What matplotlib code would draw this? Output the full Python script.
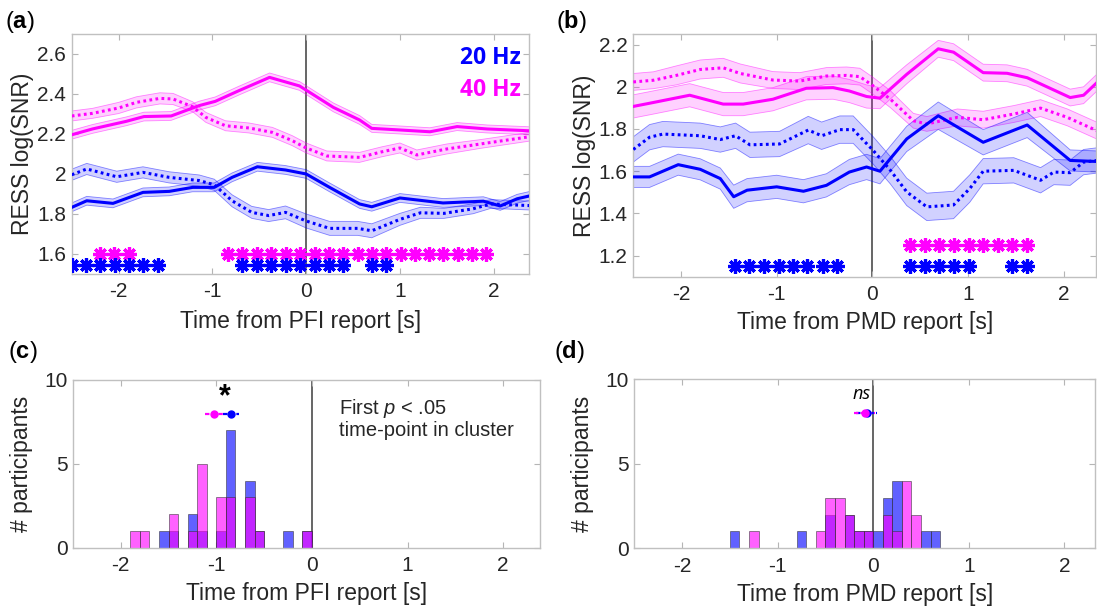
import numpy as np
import matplotlib
matplotlib.use('Agg')
import matplotlib.pyplot as plt
from matplotlib.ticker import FormatStrFormatter

plt.rcParams['font.family'] = 'Liberation Sans'
plt.rcParams['axes.unicode_minus'] = False
plt.rcParams['mathtext.fontset'] = 'custom'
plt.rcParams['mathtext.rm'] = 'Liberation Sans'
plt.rcParams['mathtext.it'] = 'Liberation Sans:italic'
plt.rcParams['mathtext.bf'] = 'Liberation Sans:bold'

# Colours: 20 Hz = blue, 40 Hz = magenta
c20 = (0.0, 0.0, 1.0)
c40 = (1.0, 0.0, 1.0)

# ---- (a) RESS log(SNR) around PFI report ----
# 40 Hz, solid (disappearance) and dotted (reappearance)
a40_t   = [-2.5, -2.28, -1.92, -1.73, -1.44, -1.14, -0.97, -0.72, -0.39, -0.07, 0.29, 0.57, 0.70, 1.0, 1.32, 1.61, 1.93, 2.38]
a40_v   = [2.196, 2.225, 2.263, 2.287, 2.29, 2.342, 2.363, 2.416, 2.483, 2.44, 2.333, 2.27, 2.228, 2.22, 2.211, 2.237, 2.225, 2.216]
a40_e   = [0.022, 0.022, 0.022, 0.022, 0.022, 0.022, 0.022, 0.022, 0.022, 0.022, 0.022, 0.022, 0.02, 0.02, 0.02, 0.02, 0.02, 0.02]
a40d_t  = [-2.5, -2.28, -2.0, -1.81, -1.56, -1.42, -1.21, -1.07, -0.86, -0.61, -0.36, -0.15, 0.0, 0.22, 0.57, 0.80, 1.0, 1.18, 1.5, 1.86, 2.38]
a40d_v  = [2.29, 2.303, 2.33, 2.358, 2.378, 2.375, 2.336, 2.283, 2.241, 2.23, 2.208, 2.167, 2.13, 2.09, 2.083, 2.11, 2.13, 2.095, 2.125, 2.15, 2.186]
a40d_e  = [0.025, 0.025, 0.028, 0.028, 0.028, 0.028, 0.025, 0.025, 0.025, 0.025, 0.025, 0.025, 0.025, 0.025, 0.025, 0.025, 0.025, 0.025, 0.025, 0.022, 0.022]
# 20 Hz
a20_t   = [-2.5, -2.34, -2.06, -1.74, -1.46, -1.21, -0.98, -0.79, -0.52, -0.22, 0.0, 0.25, 0.57, 0.70, 1.0, 1.46, 1.89, 2.07, 2.25, 2.38]
a20_v   = [1.833, 1.866, 1.853, 1.908, 1.913, 1.933, 1.933, 1.983, 2.036, 2.02, 2.0, 1.933, 1.85, 1.836, 1.88, 1.855, 1.864, 1.84, 1.876, 1.89]
a20_e   = [0.022, 0.022, 0.022, 0.022, 0.022, 0.022, 0.022, 0.022, 0.022, 0.022, 0.022, 0.022, 0.022, 0.022, 0.022, 0.022, 0.022, 0.022, 0.022, 0.022]
a20d_t  = [-2.5, -2.34, -2.02, -1.74, -1.46, -1.14, -0.98, -0.79, -0.58, -0.40, -0.22, 0.0, 0.25, 0.55, 0.70, 1.0, 1.22, 1.47, 1.78, 1.97, 2.38]
a20d_v  = [1.996, 2.025, 1.986, 2.008, 1.983, 1.967, 1.946, 1.866, 1.808, 1.792, 1.808, 1.765, 1.728, 1.728, 1.716, 1.773, 1.806, 1.803, 1.826, 1.85, 1.842]
a20d_e  = [0.028, 0.028, 0.028, 0.028, 0.028, 0.028, 0.028, 0.03, 0.03, 0.03, 0.032, 0.035, 0.035, 0.035, 0.035, 0.03, 0.028, 0.025, 0.025, 0.022, 0.022]
# significant time points (cluster test)
a40_sig = [-2.20, -2.05, -1.89, -0.83, -0.68, -0.52, -0.37, -0.22, -0.07, 0.09, 0.24, 0.39, 0.55,
           0.70, 0.85, 1.01, 1.16, 1.31, 1.46, 1.62, 1.77, 1.92]
a20_sig = [-2.50, -2.35, -2.20, -2.04, -1.89, -1.74, -1.58, -0.68, -0.52, -0.37, -0.22, -0.07, 0.09,
           0.24, 0.39, 0.70, 0.85]

# ---- (b) RESS log(SNR) around PMD report ----
b40_t   = [-2.5, -2.33, -1.91, -1.56, -1.35, -1.04, -0.69, -0.41, -0.24, -0.06, 0.08, 0.36, 0.69, 0.85, 1.16, 1.41, 1.62, 2.07, 2.21, 2.35]
b40_v   = [1.907, 1.922, 1.96, 1.918, 1.918, 1.941, 1.993, 1.996, 1.98, 1.954, 1.946, 2.059, 2.18, 2.164, 2.067, 2.064, 2.043, 1.949, 1.96, 2.02]
b40_e   = [0.055, 0.055, 0.055, 0.055, 0.055, 0.055, 0.055, 0.055, 0.055, 0.055, 0.05, 0.045, 0.04, 0.04, 0.04, 0.04, 0.04, 0.04, 0.04, 0.04]
b40d_t  = [-2.5, -2.29, -2.05, -1.80, -1.56, -1.38, -1.04, -0.76, -0.48, -0.27, -0.13, 0.01, 0.19, 0.43, 0.57, 0.89, 1.16, 1.48, 1.76, 2.04, 2.35]
b40d_v  = [2.023, 2.031, 2.054, 2.082, 2.09, 2.063, 2.032, 2.027, 2.051, 2.054, 2.048, 2.004, 1.941, 1.839, 1.824, 1.855, 1.844, 1.871, 1.899, 1.855, 1.792]
b40d_e  = [0.04, 0.04, 0.045, 0.045, 0.045, 0.045, 0.04, 0.04, 0.04, 0.04, 0.04, 0.04, 0.04, 0.035, 0.035, 0.04, 0.04, 0.04, 0.04, 0.04, 0.04]
b20_t   = [-2.5, -2.33, -2.03, -1.80, -1.59, -1.45, -1.31, -1.0, -0.72, -0.48, -0.24, -0.06, 0.08, 0.36, 0.69, 1.16, 1.62, 2.07, 2.35]
b20_v   = [1.573, 1.573, 1.631, 1.609, 1.565, 1.479, 1.51, 1.526, 1.505, 1.533, 1.596, 1.62, 1.6, 1.753, 1.863, 1.737, 1.819, 1.651, 1.646]
b20_e   = [0.05, 0.05, 0.05, 0.05, 0.05, 0.055, 0.055, 0.055, 0.055, 0.055, 0.06, 0.06, 0.06, 0.06, 0.065, 0.06, 0.06, 0.05, 0.05]
b20d_t  = [-2.5, -2.33, -2.19, -1.80, -1.59, -1.43, -1.28, -0.97, -0.67, -0.53, -0.34, -0.20, 0.01, 0.19, 0.36, 0.57, 0.85, 1.02, 1.16, 1.48, 1.76, 1.90, 2.07, 2.21, 2.35]
b20d_v  = [1.703, 1.761, 1.776, 1.768, 1.75, 1.768, 1.725, 1.729, 1.795, 1.768, 1.797, 1.797, 1.698, 1.604, 1.502, 1.431, 1.44, 1.518, 1.6, 1.604, 1.557, 1.596, 1.593, 1.643, 1.651]
b20d_e  = [0.06, 0.06, 0.06, 0.06, 0.06, 0.06, 0.06, 0.06, 0.065, 0.065, 0.065, 0.065, 0.065, 0.065, 0.065, 0.065, 0.065, 0.065, 0.06, 0.06, 0.06, 0.06, 0.06, 0.06, 0.06]
b40_sig = [0.39, 0.55, 0.70, 0.85, 1.01, 1.16, 1.31, 1.46, 1.62]
b20_sig = [-1.44, -1.29, -1.13, -0.98, -0.83, -0.68, -0.52, -0.37, 0.39, 0.55, 0.70, 0.85, 1.01, 1.46, 1.62]

# ---- (c) first significant time point, PFI ----
c_bins = [-1.9, -1.8, -1.6, -1.5, -1.3, -1.2, -1.0, -0.9, -0.7, -0.6, -0.3, -0.1]
c40_n  = [1, 1, 0, 2, 1, 5, 3, 3, 3, 1, 0, 1]
c20_n  = [0, 0, 1, 1, 2, 1, 1, 7, 4, 1, 1, 1]
c40_mean, c40_sem = -1.026, 0.095
c20_mean, c20_sem = -0.85, 0.085

# ---- (d) first significant time point, PMD ----
d_bins = [-1.5, -1.3, -0.8, -0.6, -0.5, -0.4, -0.3, -0.2, -0.1, 0.0, 0.1, 0.2, 0.3, 0.4, 0.5, 0.6]
d40_n  = [0, 1, 0, 1, 3, 3, 2, 1, 1, 0, 2, 1, 4, 2, 0, 0]
d20_n  = [1, 0, 1, 0, 2, 0, 2, 1, 1, 1, 3, 4, 0, 0, 1, 1]
d40_mean, d40_sem = -0.09, 0.11
d20_mean, d20_sem = -0.07, 0.11

binw = 0.1
tick_col = '#262626'
lab_fs = 16.5


def style(ax, xlim, ylim, yticks):
    ax.set_xlim(xlim)
    ax.set_ylim(ylim)
    ax.set_xticks([-2, -1, 0, 1, 2])
    ax.set_yticks(yticks)
    ax.yaxis.set_major_formatter(FormatStrFormatter('%g'))
    ax.tick_params(direction='in', top=True, right=True, length=4, width=0.8,
                   color='#b5b5b5', labelcolor=tick_col, labelsize=15)
    ax.tick_params(axis='x', pad=6)
    ax.tick_params(axis='y', pad=4)
    for s in ax.spines.values():
        s.set_color('#c0c0c0')
        s.set_linewidth(1.0)
    ax.axvline(0, color='#3c3c3c', lw=1.1, zorder=1)


def band(ax, t, v, e, col, ls):
    t = np.array(t); v = np.array(v); e = np.array(e)
    ax.fill_between(t, v - e, v + e, facecolor=col, alpha=0.18, edgecolor='none', zorder=2)
    ax.plot(t, v - e, color=col, lw=0.6, alpha=0.45, zorder=2)
    ax.plot(t, v + e, color=col, lw=0.6, alpha=0.45, zorder=2)
    if ls == 'dot':
        ax.plot(t, v, color=col, lw=2.2, ls=(0, (0.9, 1.1)), zorder=3)
    else:
        ax.plot(t, v, color=col, lw=2.2, zorder=3)


def stars(ax, t, y, col):
    ax.plot(t, np.full(len(t), y), ls='none', marker=(8, 2, 0), ms=10.5, mew=2.3,
            color=col, zorder=4)


def hist(ax, bins, n20, n40):
    ax.bar(bins, n20, width=binw, align='edge', color=c20, alpha=0.62,
           edgecolor='#303030', linewidth=0.6, zorder=2)
    ax.bar(bins, n40, width=binw, align='edge', color=c40, alpha=0.62,
           edgecolor='#303030', linewidth=0.6, zorder=2)


def means(ax, m20, s20, m40, s40, y):
    # 20 Hz first so that the 40 Hz marker sits on top
    for m, s, col in [(m20, s20, c20), (m40, s40, c40)]:
        eb = ax.errorbar(m, y, xerr=s, fmt='o', color=col, ms=5, elinewidth=1.6,
                         capsize=0, zorder=5)
        eb[2][0].set_linestyle((0, (2, 1)))


fig = plt.figure(figsize=(10.97, 6.11), dpi=100)

axa = fig.add_axes([0.0654, 0.5516, 0.4171, 0.3928])
band(axa, a40d_t, a40d_v, a40d_e, c40, 'dot')
band(axa, a40_t, a40_v, a40_e, c40, 'solid')
band(axa, a20d_t, a20d_v, a20d_e, c20, 'dot')
band(axa, a20_t, a20_v, a20_e, c20, 'solid')
stars(axa, a40_sig, 1.6, c40)
stars(axa, a20_sig, 1.545, c20)
style(axa, (-2.5, 2.38), (1.5, 2.7), [1.6, 1.8, 2.0, 2.2, 2.4, 2.6])
axa.set_xlabel('Time from PFI report [s]', fontsize=lab_fs, color=tick_col, labelpad=6)
axa.set_ylabel('RESS log(SNR)', fontsize=lab_fs, color=tick_col, labelpad=2)
axa.text(2.29, 2.58, '20 Hz', color=c20, fontsize=16.5, fontweight='bold',
         family='Open Sans', ha='right', va='center')
axa.text(2.29, 2.418, '40 Hz', color=c40, fontsize=16.5, fontweight='bold',
         family='Open Sans', ha='right', va='center')

axb = fig.add_axes([0.5773, 0.5471, 0.4218, 0.3972])
band(axb, b40d_t, b40d_v, b40d_e, c40, 'dot')
band(axb, b40_t, b40_v, b40_e, c40, 'solid')
band(axb, b20d_t, b20d_v, b20d_e, c20, 'dot')
band(axb, b20_t, b20_v, b20_e, c20, 'solid')
stars(axb, b40_sig, 1.25, c40)
stars(axb, b20_sig, 1.15, c20)
style(axb, (-2.5, 2.34), (1.1, 2.25), [1.2, 1.4, 1.6, 1.8, 2.0, 2.2])
axb.set_xlabel('Time from PMD report [s]', fontsize=lab_fs, color=tick_col, labelpad=5)
axb.set_ylabel('RESS log(SNR)', fontsize=lab_fs, color=tick_col, labelpad=2)

axc = fig.add_axes([0.0665, 0.1036, 0.4253, 0.2745])
hist(axc, c_bins, c20_n, c40_n)
means(axc, c20_mean, c20_sem, c40_mean, c40_sem, 8)
axc.text(-0.91, 9.0, '*', fontsize=22, fontweight='bold', ha='center', va='center')
axc.text(0.28, 8.3, 'First $p$ < .05', fontsize=14.5, color=tick_col, va='center')
axc.text(0.28, 7.0, 'time-point in cluster', fontsize=14.5, color=tick_col, va='center')
style(axc, (-2.5, 2.38), (0, 10), [0, 5, 10])
axc.set_xlabel('Time from PFI report [s]', fontsize=lab_fs, color=tick_col, labelpad=5)
axc.set_ylabel('# participants', fontsize=lab_fs, color=tick_col, labelpad=8)

axd = fig.add_axes([0.5782, 0.1026, 0.42, 0.2765])
hist(axd, d_bins, d20_n, d40_n)
means(axd, d20_mean, d20_sem, d40_mean, d40_sem, 8)
axd.text(-0.12, 9.15, 'ns', fontsize=13, style='italic', family='Open Sans',
         ha='center', va='center')
style(axd, (-2.5, 2.32), (0, 10), [0, 5, 10])
axd.set_xlabel('Time from PMD report [s]', fontsize=lab_fs, color=tick_col, labelpad=5)
axd.set_ylabel('# participants', fontsize=lab_fs, color=tick_col, labelpad=8)

# panel letters
for x, y, s in [(0.005, 0.964, 'a'), (0.507, 0.964, 'b'), (0.007, 0.424, 'c'), (0.505, 0.424, 'd')]:
    fig.text(x, y, '(' + r'$\mathbf{' + s + '}$' + ')', fontsize=17, va='center', ha='left')

fig.savefig('out.png', dpi=100)
